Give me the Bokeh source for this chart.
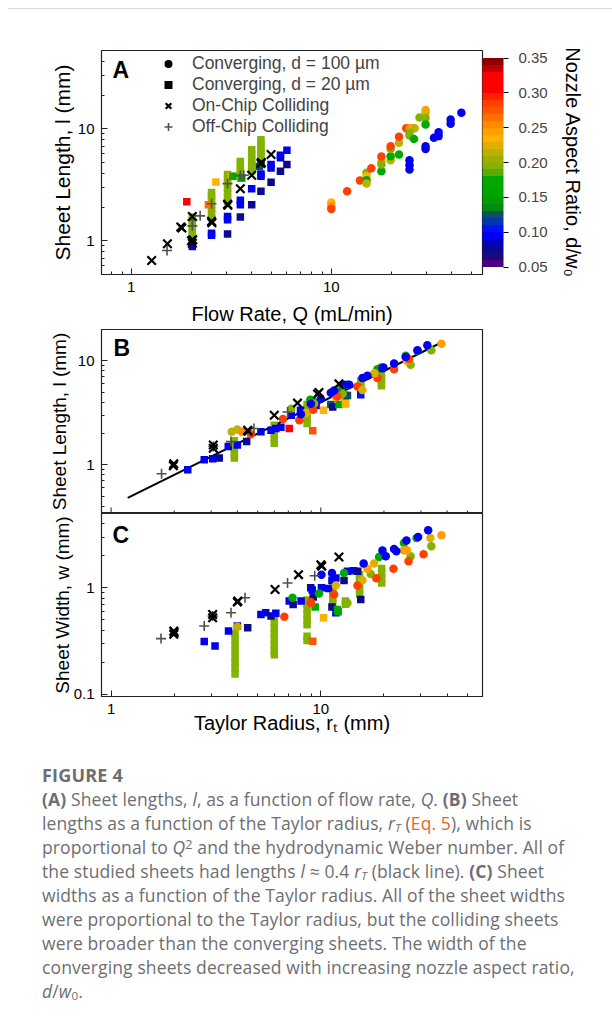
import math
from bokeh.plotting import figure
from bokeh.models import (ColumnDataSource, LinearColorMapper, ColorBar, FixedTicker,
                          PrintfTickFormatter, Legend, LegendItem, Label, Div, Range1d, Title)
from bokeh.layouts import column
from bokeh.embed import file_html
from bokeh.resources import INLINE

FONT = "Liberation Sans"

# ---------------- colour scale (nozzle aspect ratio d/w0) ----------------
cbar_ticks = [0.05, 0.10, 0.15, 0.20, 0.25, 0.30, 0.35]
palette = ["#4B0082", "#1C0A78", "#0A0A90", "#0000C0", "#0000F0", "#0010FF",
           "#0038B0", "#0A5060", "#008C10", "#009C00", "#00A400", "#00A800",
           "#00A800", "#5AAA00", "#84B200", "#9AB000", "#BDB000", "#DDB000",
           "#FFB000", "#FFA000", "#FF8C00", "#FF7000", "#FF5500", "#FF4000",
           "#FF2000", "#FF0000", "#FF0000", "#FF0000", "#C00000", "#8B0000"]

# ---------------- Panel A : sheet length l vs flow rate Q ----------------
a_circ_q = [10.0, 10.0, 10.0, 12.0, 13.9, 15.0, 15.0, 15.0, 15.0, 15.85,
            17.8, 17.8, 17.8, 17.8, 19.8, 19.8, 19.8, 19.8, 21.8, 21.8, 21.8,
            23.7, 24.6, 25.6, 26.1, 24.6, 24.6, 25.9, 24.6, 24.6, 24.6, 27.6,
            29.6, 29.6, 29.6, 29.6, 29.6, 29.6, 32.6, 34.4, 34.4, 39.5, 39.5, 44.7]
a_circ_l = [2.20, 2.03, 1.92, 2.77, 3.45, 4.04, 3.77, 3.47, 3.24, 4.44,
            4.18, 5.06, 4.80, 5.65, 5.24, 5.69, 6.6, 7.0, 5.9, 7.5, 8.48,
            10.1, 10.1, 10.1, 10.1, 9.2, 8.7, 8.1, 5.24, 4.72, 4.32, 12.6,
            14.7, 13.9, 12.5, 10.9, 7.0, 6.6, 8.3, 9.3, 8.6, 12.1, 11.1, 13.9]
a_circ_ar = [0.235, 0.255, 0.285, 0.285, 0.285, 0.195, 0.235, 0.175, 0.215, 0.285,
             0.165, 0.215, 0.195, 0.285, 0.215, 0.165, 0.195, 0.285, 0.165, 0.215, 0.285,
             0.285, 0.255, 0.235, 0.215, 0.195, 0.195, 0.165, 0.095, 0.095, 0.095, 0.195,
             0.245, 0.225, 0.195, 0.165, 0.095, 0.095, 0.095, 0.095, 0.095, 0.095, 0.095, 0.095]

a_sq_q = [2.02, 2.02, 2.52, 2.52, 3.03, 3.03, 3.03, 3.51, 3.51, 3.51, 4.0, 4.0,
          4.45, 4.45, 4.45, 5.0, 5.0, 5.0, 5.57, 5.57, 5.57, 6.0, 6.0,
          1.895, 2.65, 2.43, 3.15, 3.22, 3.57, 4.37, 4.45]
a_sq_l = [0.89, 0.93, 1.12, 1.17, 1.15, 1.54, 1.65, 1.63, 2.1, 2.3, 2.1, 2.92,
          2.77, 3.77, 3.95, 3.33, 4.47, 4.79, 4.18, 5.5, 5.8, 4.79, 6.44,
          2.23, 3.35, 2.1, 3.77, 3.77, 3.64, 4.6, 4.9]
a_sq_ar = [0.095, 0.095, 0.095, 0.095, 0.075, 0.095, 0.095, 0.075, 0.095, 0.095, 0.075, 0.095,
           0.075, 0.095, 0.095, 0.075, 0.095, 0.095, 0.075, 0.095, 0.095, 0.075, 0.095,
           0.305, 0.235, 0.265, 0.245, 0.165, 0.165, 0.125, 0.125]

a_bar_q = [2.02, 2.52, 3.03, 3.51, 4.0, 4.45]
a_bar_l = [[1.09, 1.18, 1.28, 1.39, 1.51, 1.63],
           [1.6, 1.75, 1.92, 2.1, 2.3, 2.5, 2.7],
           [2.25, 2.45, 2.7, 2.95, 3.25, 3.55, 3.9],
           [3.64, 3.95, 4.3, 4.7, 5.1],
           [4.2, 4.55, 4.95, 5.4, 5.9, 6.5],
           [4.8, 5.2, 5.7, 6.2, 6.75, 7.35, 8.0]]
a_bar_ar = [0.195, 0.195, 0.195, 0.195, 0.195, 0.195]

a_on_q = [1.265, 1.516, 1.768, 1.79, 2.02, 2.00, 2.03, 2.02, 2.52, 2.53, 3.03, 3.04,
          3.51, 4.0, 4.45, 4.47, 5.0]
a_on_l = [0.667, 0.94, 1.326, 1.30, 0.95, 1.0, 1.02, 1.65, 1.49, 1.45, 2.12, 2.08,
          2.92, 3.85, 4.9, 5.0, 5.89]
a_off_q = [1.51, 2.02, 2.02, 2.21, 2.52, 3.03, 3.51, 3.65]
a_off_l = [0.82, 1.36, 1.54, 1.67, 2.14, 3.24, 3.82, 3.85]

# ---------------- Panel B : sheet length l vs Taylor radius rT ----------------
b_circ_r = [3.76, 4.0, 4.2, 4.64, 6.6, 7.23, 8.9, 8.5, 7.9,
            9.2, 12.4, 13.4, 18.6, 19.4, 25.4, 28.9,
            12.7, 26.8, 33.65, 9.3,
            37.6, 25.7, 11.8,
            14.95, 12.0, 18.6, 22.35, 26.3, 9.2,
            15.79, 18.0,
            8.03, 8.96, 10.0, 11.16, 11.57, 12.91, 13.64, 15.79, 16.68, 19.67, 19.9,
            22.35, 25.4, 28.9, 32.2]
b_circ_l = [2.08, 2.19, 2.08, 1.97, 2.76, 3.46, 4.22, 3.15, 2.68,
            4.1, 5.1, 5.9, 8.3, 8.6, 11.2, 12.4,
            4.82, 9.17, 12.6, 3.87,
            14.6, 10.0, 4.48,
            5.66, 4.54, 6.83, 8.3, 10.4, 3.38,
            5.25, 7.57,
            3.06, 3.87, 4.32, 4.92, 5.18, 5.9, 5.9, 6.83, 7.2, 8.5, 8.6,
            9.43, 10.9, 12.6, 14.1]
b_circ_ar = [0.215, 0.215, 0.255, 0.285, 0.285, 0.195, 0.165, 0.225, 0.285,
             0.165, 0.165, 0.165, 0.165, 0.165, 0.165, 0.165,
             0.195, 0.195, 0.195, 0.195,
             0.245, 0.245, 0.245,
             0.285, 0.285, 0.285, 0.285, 0.285, 0.285,
             0.225, 0.225,
             0.095, 0.095, 0.095, 0.095, 0.095, 0.095, 0.095, 0.095, 0.095, 0.095, 0.095,
             0.095, 0.095, 0.095, 0.095]

b_sq_r = [2.32, 2.78, 3.28, 3.05, 3.62, 4.0, 4.43, 5.18, 5.79, 6.1, 6.45, 7.23, 8.0,
          7.07, 9.15, 9.2, 9.5, 11.16, 11.4, 12.2, 13.1, 13.4, 10.3, 15.5]
b_sq_l = [0.896, 1.12, 1.16, 1.14, 1.5, 1.55, 1.67, 2.08, 2.15, 2.23, 2.3, 2.99, 3.34,
          2.23, 2.12, 3.46, 3.72, 3.81, 3.6, 3.81, 3.87, 4.64, 3.34, 4.71]
b_sq_ar = [0.095, 0.095, 0.075, 0.095, 0.095, 0.095, 0.075, 0.095, 0.095, 0.095, 0.095, 0.095, 0.095,
           0.305, 0.27, 0.075, 0.095, 0.125, 0.075, 0.165, 0.235, 0.125, 0.235, 0.105]

b_bar_r = [3.87, 6.0, 8.6, 13.1, 15.5, 19.45]
b_bar_l = [[1.16, 1.27, 1.4, 1.55, 1.7],
           [1.61, 1.78, 1.96, 2.17, 2.4],
           [2.5, 2.75, 3.05, 3.4, 3.8],
           [3.87, 4.25, 4.7],
           [5.4, 5.9, 6.4],
           [5.76, 6.3, 6.85, 7.45]]
b_bar_ar = [0.195, 0.195, 0.195, 0.195, 0.195, 0.195]

b_on_r = [1.98, 1.99, 3.07, 3.07, 4.48, 4.5, 6.0, 7.74, 9.64, 9.8, 12.2]
b_on_l = [0.98, 1.02, 1.55, 1.44, 2.15, 2.1, 2.99, 3.92, 4.8, 4.95, 6.0]
b_off_r = [1.74, 3.07, 3.73, 4.8, 6.94, 12.3]
b_off_l = [0.82, 1.5, 1.67, 2.23, 3.22, 5.66]

fit_r = [1.2, 37.6]
fit_l = [0.48, 15.0]

# ---------------- Panel C : sheet width w vs Taylor radius rT ----------------
c_circ_r = [4.0, 6.7, 7.33, 8.95,
            9.8, 12.9, 18.95, 24.9, 28.6,
            17.3, 26.8, 33.65, 13.4,
            11.8, 15.79, 17.95, 24.9, 33.3,
            16.68, 25.7, 37.6,
            11.57, 14.95, 18.4, 22.2, 26.2, 30.9, 8.96,
            10.07, 11.3, 16.0, 19.67, 20.4, 22.35, 22.9, 25.6, 29.1, 32.5]
c_circ_w = [0.431, 0.535, 0.806, 0.72,
            0.885, 1.38, 1.95, 2.64, 2.94,
            1.35, 1.98, 2.46, 0.72,
            1.05, 1.18, 1.69, 2.25, 2.94,
            1.51, 2.25, 3.12,
            0.866, 1.05, 1.23, 1.51, 1.78, 2.07, 0.734,
            1.33, 1.38, 1.69, 2.24, 1.98, 2.32, 2.21, 2.78, 3.01, 3.47]
c_circ_ar = [0.215, 0.285, 0.165, 0.285,
             0.165, 0.165, 0.165, 0.165, 0.165,
             0.195, 0.195, 0.195, 0.195,
             0.225, 0.225, 0.225, 0.225, 0.225,
             0.245, 0.245, 0.245,
             0.285, 0.285, 0.285, 0.285, 0.285, 0.285, 0.285,
             0.095, 0.095, 0.095, 0.095, 0.095, 0.095, 0.095, 0.095, 0.095, 0.095]

c_sq_r = [2.78, 3.13, 3.63, 4.0, 4.48, 5.18, 5.46, 5.79, 6.1, 7.07, 7.38, 8.05,
          9.15, 8.95, 9.1, 10.07, 10.9, 11.3, 11.8, 13.4, 14.3, 11.8,
          9.2, 12.9, 15.0, 15.5, 11.3, 9.4, 12.0, 12.1, 10.3]
c_sq_w = [0.312, 0.284, 0.392, 0.437, 0.422, 0.562, 0.583, 0.542, 0.575, 0.75, 0.698, 0.75,
          0.314, 1.0, 0.955, 1.0, 0.986, 1.18, 1.24, 1.43, 1.45, 0.583,
          0.818, 1.17, 1.43, 0.777, 0.659, 0.659, 0.626, 0.596, 0.523]
c_sq_ar = [0.095, 0.095, 0.095, 0.095, 0.075, 0.095, 0.095, 0.075, 0.095, 0.095, 0.075, 0.095,
           0.27, 0.075, 0.095, 0.095, 0.095, 0.095, 0.095, 0.095, 0.095, 0.095,
           0.075, 0.075, 0.075, 0.075, 0.075, 0.165, 0.165, 0.165, 0.235]

c_bar_r = [3.9, 6.0, 8.6, 11.4, 13.1, 15.3, 19.5]
c_bar_w = [[0.155, 0.175, 0.2, 0.225, 0.255, 0.29, 0.33, 0.37],
           [0.235, 0.26, 0.29, 0.33, 0.37, 0.42, 0.47, 0.53],
           [0.32, 0.35, 0.45, 0.5, 0.56, 0.63, 0.7, 0.77],
           [0.72, 0.8, 0.9, 1.0],
           [0.7, 0.75],
           [0.87, 0.97, 1.08, 1.2, 1.33],
           [1.11, 1.23, 1.37, 1.52]]
c_bar_ar = [0.195, 0.195, 0.195, 0.195, 0.195, 0.195, 0.195]

c_on_r = [1.99, 1.99, 2.0, 3.05, 3.05, 4.0, 4.02, 6.05, 7.83, 10.0, 10.1, 12.2]
c_on_w = [0.392, 0.365, 0.38, 0.562, 0.523, 0.734, 0.75, 0.965, 1.33, 1.65, 1.6, 1.95]
c_off_r = [1.73, 2.78, 3.05, 3.73, 4.35, 6.94, 9.35]
c_off_w = [0.333, 0.437, 0.542, 0.583, 0.806, 1.11, 1.30]

# tick positions of the Taylor-radius axis
r_major_ticks = [1, 10]
r_minor_ticks = [2, 3, 4, 5, 6, 7, 8, 9, 20, 30, 40, 50]

# ---------------- helpers ----------------
mapper = LinearColorMapper(palette=palette, low=0.05, high=0.35)
NAN = float("nan")
X_SIZE, X_WIDTH = 12, 2.2


def expand(xs, ylists, ars):
    X, Y, A = [], [], []
    for x, ys, a in zip(xs, ylists, ars):
        for y in ys:
            X.append(x)
            Y.append(y)
            A.append(a)
    return X, Y, A


def style(p):
    p.outline_line_color = "#222222"
    p.outline_line_width = 1.2
    p.grid.visible = False
    p.background_fill_color = "white"
    p.border_fill_color = "white"
    for ax in p.axis:
        ax.major_tick_in = 6
        ax.major_tick_out = 0
        ax.minor_tick_in = 3
        ax.minor_tick_out = 0
        ax.axis_line_color = "#222222"
        ax.major_tick_line_color = "#222222"
        ax.minor_tick_line_color = "#222222"
        ax.major_label_text_font = FONT
        ax.major_label_text_font_size = "15px"
        ax.major_label_text_color = "black"
        ax.major_label_standoff = 7
        ax.axis_label_text_font = FONT
        ax.axis_label_text_font_size = "20px"
        ax.axis_label_text_font_style = "normal"
        ax.axis_label_text_color = "black"
        ax.formatter = PrintfTickFormatter(format="%g")


def draw_points(p, bx, by, bar, sx, sy, sar, cx, cy, car, ox, oy, fx, fy):
    X, Y, A = expand(bx, by, bar)
    p.scatter("x", "y", source=ColumnDataSource(dict(x=X, y=Y, ar=A)), marker="square",
              size=7.5, line_color=None, fill_color={"field": "ar", "transform": mapper})
    p.scatter("x", "y", source=ColumnDataSource(dict(x=sx, y=sy, ar=sar)), marker="square",
              size=7.5, line_color=None, fill_color={"field": "ar", "transform": mapper})
    p.scatter("x", "y", source=ColumnDataSource(dict(x=cx, y=cy, ar=car)), marker="circle",
              size=8.5, line_color=None, fill_color={"field": "ar", "transform": mapper})
    p.scatter("x", "y", source=ColumnDataSource(dict(x=fx, y=fy)), marker="cross",
              size=10, line_color="#505050", line_width=1.6)
    p.scatter("x", "y", source=ColumnDataSource(dict(x=ox, y=oy)), marker="x",
              size=X_SIZE, line_color="black", line_width=X_WIDTH)


def panel_letter(p, text, x, y):
    p.add_layout(Label(x=x, y=y, x_units="screen", y_units="screen", text=text,
                       text_font=FONT, text_font_size="23px", text_font_style="bold",
                       text_baseline="middle", text_align="left", text_color="black"))


minor_dec = [2, 3, 4, 5, 6, 7, 8, 9]

# ---------------- Panel A figure ----------------
pA = figure(width=612, height=315, x_axis_type="log", y_axis_type="log",
            x_range=Range1d(0.71, 57), y_range=Range1d(0.5, 50),
            min_border_left=101, min_border_right=130, min_border_top=36, min_border_bottom=55,
            output_backend="svg", toolbar_location=None)
style(pA)
pA.xaxis.ticker = FixedTicker(ticks=[1, 10], minor_ticks=[0.8, 0.9] + minor_dec + [20, 30, 40, 50])
pA.yaxis.ticker = FixedTicker(ticks=[1, 10], minor_ticks=[0.5, 0.6, 0.7, 0.8, 0.9] + minor_dec + [20, 30, 40, 50])
pA.xaxis.axis_label = "Flow Rate, Q (mL/min)"
pA.xaxis.axis_label_standoff = 8
pA.yaxis.axis_label = "Sheet Length, l (mm)"
pA.yaxis.axis_label_text_font_size = "21px"
pA.yaxis.axis_label_standoff = 1
draw_points(pA, a_bar_q, a_bar_l, a_bar_ar, a_sq_q, a_sq_l, a_sq_ar,
            a_circ_q, a_circ_l, a_circ_ar, a_on_q, a_on_l, a_off_q, a_off_l)
panel_letter(pA, "A", 11, 205)

lc = pA.scatter([NAN], [NAN], marker="circle", size=8.5, fill_color="black", line_color=None)
ls = pA.scatter([NAN], [NAN], marker="square", size=7.5, fill_color="black", line_color=None)
lx = pA.scatter([NAN], [NAN], marker="x", size=X_SIZE, line_color="black", line_width=X_WIDTH)
lp = pA.scatter([NAN], [NAN], marker="cross", size=10, line_color="#505050", line_width=1.6)
legend = Legend(items=[LegendItem(label="Converging, d = 100 µm", renderers=[lc]),
                       LegendItem(label="Converging, d = 20 µm", renderers=[ls]),
                       LegendItem(label="On-Chip Colliding", renderers=[lx]),
                       LegendItem(label="Off-Chip Colliding", renderers=[lp])],
                location=(57, 137), padding=0, margin=0, spacing=0,
                glyph_width=20, glyph_height=21, label_height=21, label_standoff=14,
                label_text_font=FONT, label_text_font_size="17.5px",
                background_fill_alpha=0, border_line_alpha=0)
pA.add_layout(legend)

cb = ColorBar(color_mapper=mapper, width=21, height=209, location="center_left",
              margin=6, padding=0, ticker=FixedTicker(ticks=cbar_ticks),
              formatter=PrintfTickFormatter(format="%.2f"),
              major_tick_in=0, major_tick_out=5, major_tick_line_color="black",
              minor_tick_line_color=None, bar_line_color=None, label_standoff=10,
              major_label_text_font=FONT, major_label_text_font_size="15px",
              background_fill_alpha=0)
pA.add_layout(cb, "right")
pA.add_layout(Title(text="Nozzle Aspect Ratio, d/w₀", align="center", text_font=FONT,
                    text_font_size="20px", text_font_style="normal", text_color="black",
                    standoff=22), "right")

# ---------------- Panel B figure ----------------
pB = figure(width=612, height=184, x_axis_type="log", y_axis_type="log",
            x_range=Range1d(0.9, 59), y_range=Range1d(0.34, 20), x_axis_location=None,
            min_border_left=101, min_border_right=130, min_border_top=0, min_border_bottom=0,
            output_backend="svg", toolbar_location=None)
style(pB)
pB.yaxis.ticker = FixedTicker(ticks=[1, 10], minor_ticks=[0.4, 0.5, 0.6, 0.7, 0.8, 0.9] + minor_dec + [20])
pB.yaxis.axis_label = "Sheet Length, l (mm)"
pB.yaxis.axis_label_text_font_size = "19px"
pB.yaxis.axis_label_standoff = 5
# inward tick marks on the shared Taylor-radius edge (bottom of B)
yb = pB.y_range.start
pB.scatter(r_major_ticks, [yb] * len(r_major_ticks), marker="dash", angle=math.pi / 2,
           size=12, line_color="#222222", line_width=1)
pB.scatter(r_minor_ticks, [yb] * len(r_minor_ticks), marker="dash", angle=math.pi / 2,
           size=6, line_color="#222222", line_width=1)
pB.line(fit_r, fit_l, line_color="black", line_width=2)
draw_points(pB, b_bar_r, b_bar_l, b_bar_ar, b_sq_r, b_sq_l, b_sq_ar,
            b_circ_r, b_circ_l, b_circ_ar, b_on_r, b_on_l, b_off_r, b_off_l)
panel_letter(pB, "B", 12, 166)

# ---------------- Panel C figure ----------------
pC = figure(width=612, height=227, x_axis_type="log", y_axis_type="log",
            x_range=Range1d(0.9, 59), y_range=Range1d(0.095, 5),
            min_border_left=101, min_border_right=130, min_border_top=0, min_border_bottom=44,
            output_backend="svg", toolbar_location=None)
style(pC)
pC.xaxis.ticker = FixedTicker(ticks=r_major_ticks, minor_ticks=r_minor_ticks)
pC.yaxis.ticker = FixedTicker(ticks=[0.1, 1], minor_ticks=[0.2, 0.3, 0.4, 0.5, 0.6, 0.7, 0.8, 0.9, 2, 3, 4, 5])
pC.xaxis.axis_label = "Taylor Radius, rₜ (mm)"
pC.xaxis.axis_label_standoff = -5
pC.yaxis.axis_label = "Sheet Width, w (mm)"
pC.yaxis.axis_label_text_font_size = "19px"
pC.yaxis.axis_label_standoff = -2
draw_points(pC, c_bar_r, c_bar_w, c_bar_ar, c_sq_r, c_sq_w, c_sq_ar,
            c_circ_r, c_circ_w, c_circ_ar, c_on_r, c_on_w, c_off_r, c_off_w)
panel_letter(pC, "C", 11, 162)

# ---------------- page decorations ----------------
top_rule = Div(text="", width=604, height=4,
               styles={"border-bottom": "1px solid #d9d9d9", "margin-left": "8px"})

lo = '<span style="font-size:0.66em;line-height:0;position:relative;top:0.15em;">'
hi = '<span style="font-size:0.72em;line-height:0;position:relative;top:-0.42em;">'
cap_html = (
    '<div style="font-family:\'Open Sans\',sans-serif;color:#6d6e71;font-size:17.5px;'
    'letter-spacing:0.12px;line-height:24px;padding:18px 0 0 37px;white-space:nowrap;">'
    '<div style="font-weight:700;font-size:18px;letter-spacing:0.2px;">FIGURE 4</div>'
    '<b>(A)</b> Sheet lengths, <i>l</i>, as a function of flow rate, <i>Q</i>. <b>(B)</b> Sheet<br>'
    'lengths as a function of the Taylor radius, <i>r</i>' + lo + '<i>T</i></span> '
    '(<span style="color:#e8632b;">Eq. 5</span>), which is<br>'
    'proportional to <i>Q</i>' + hi + '2</span> and the hydrodynamic Weber number. All of<br>'
    'the studied sheets had lengths <i>l</i> ≈ 0.4 <i>r</i>' + lo + '<i>T</i></span> (black line). <b>(C)</b> Sheet<br>'
    'widths as a function of the Taylor radius. All of the sheet widths<br>'
    'were proportional to the Taylor radius, but the colliding sheets<br>'
    'were broader than the converging sheets. The width of the<br>'
    'converging sheets decreased with increasing nozzle aspect ratio,<br>'
    '<i>d</i>/<i>w</i>' + lo + '0</span>.'
    '</div>'
)
caption = Div(text=cap_html, width=612, height=268)

layout = column(top_rule, pA, pB, pC, caption, spacing=0)
open("out.html", "w").write(file_html(layout, INLINE))
